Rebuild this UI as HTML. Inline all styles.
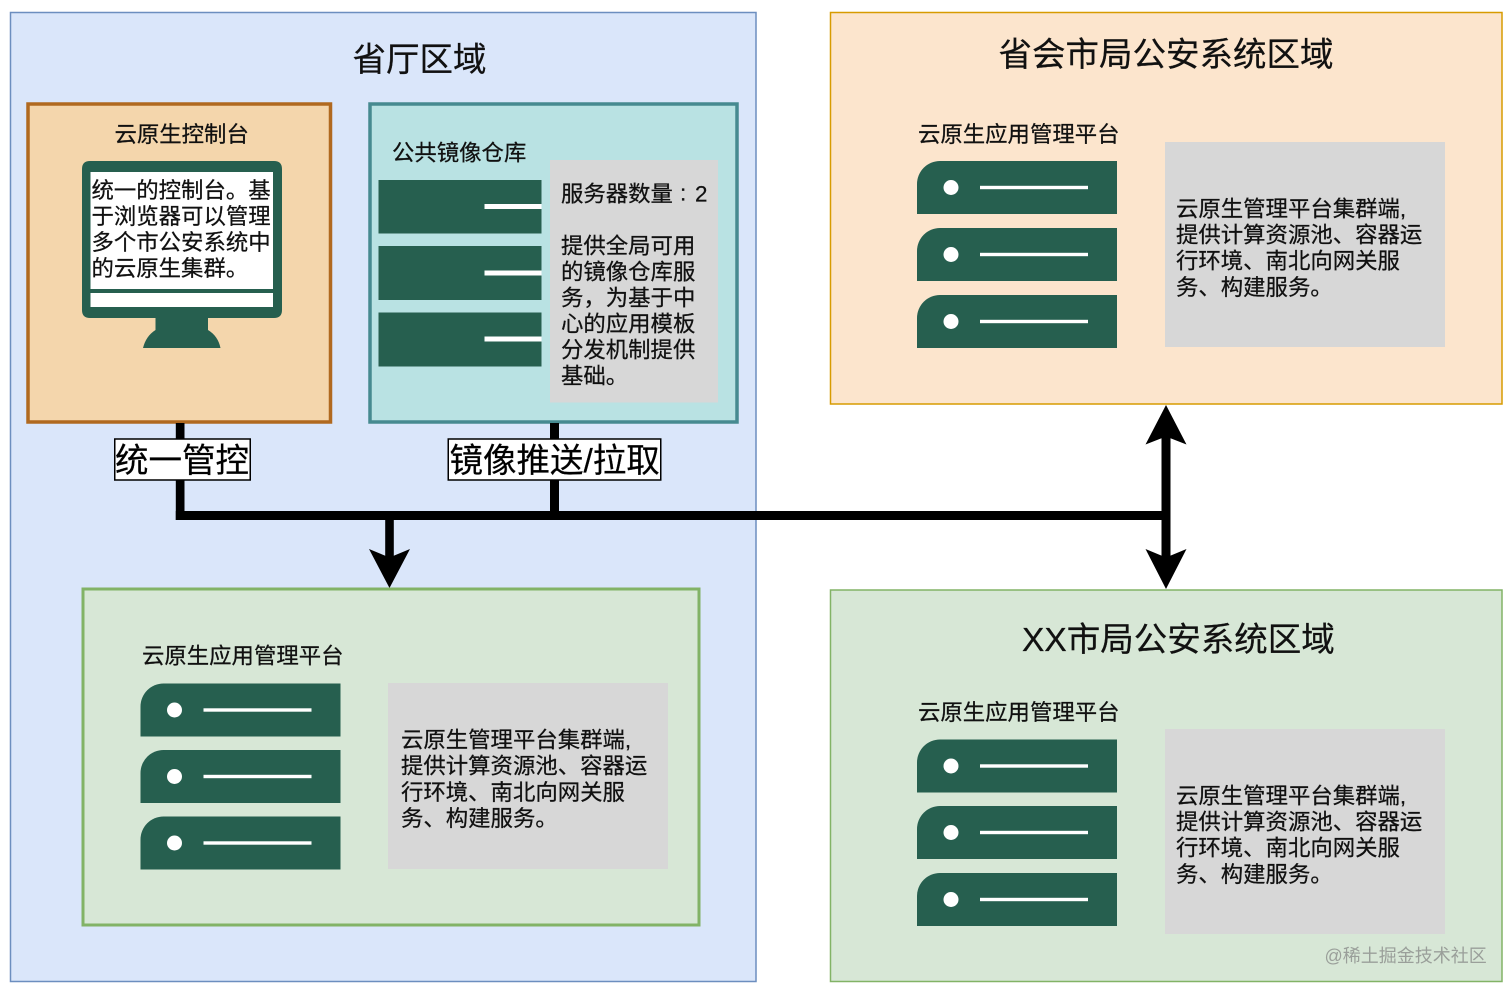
<!DOCTYPE html>
<html lang="zh">
<head>
<meta charset="utf-8">
<title>云原生架构图</title>
<style>
html,body{margin:0;padding:0;background:#fff;}
svg{display:block;}
text{font-family:"Liberation Sans","Noto Sans CJK SC",sans-serif;fill:#111;stroke:#111;stroke-width:.25px;}
.t{font-size:22.4px;}
.h{font-size:33.5px;}
.wm{font-size:18px;fill:#9a9f9a;stroke:none;}
.srv{fill:#265f4f;}
.gray{fill:#d7d7d7;}
</style>
</head>
<body>
<svg width="1512" height="992" viewBox="0 0 1512 992" xmlns="http://www.w3.org/2000/svg">
<defs>
  <g id="s">
    <path class="srv" d="M0 53V23A23 23 0 0 1 23 0H200V53Z"/>
    <circle cx="34" cy="26.500" r="7.500" fill="#fff"/>
    <rect x="63" y="24.800" width="108" height="3.400" fill="#fff"/>
  </g>
</defs>

<!-- regions -->
<rect x="10.500" y="12.500" width="745.500" height="969" fill="#dae6fa" stroke="#6c8ebf" stroke-width="1.500"/>
<rect x="830.500" y="12.500" width="671.500" height="391.500" fill="#fce5cd" stroke="#d79b00" stroke-width="1.500"/>
<rect x="830.500" y="590" width="671.500" height="391.500" fill="#d7e7d6" stroke="#82b366" stroke-width="1.500"/>

<!-- titles -->
<text class="h" x="352.500" y="71">省厅区域</text>
<text class="h" x="998.500" y="66">省会市局公安系统区域</text>
<text class="h" x="1022" y="651">XX市局公安系统区域</text>

<!-- console -->
<rect x="28" y="104" width="302.500" height="318" fill="#f4d6ac" stroke="#b0691f" stroke-width="3.500"/>
<text class="t" x="114.500" y="142">云原生控制台</text>
<path class="srv" d="M90 161H274Q282 161 282 169V310Q282 318 274 318H208V330Q218 336 220.500 348H143Q146 336 155.500 330V318H90Q82 318 82 310V169Q82 161 90 161Z"/>
<rect x="90.500" y="172" width="182.500" height="117" fill="#fff"/>
<rect x="90.500" y="293" width="182.500" height="14" fill="#fff"/>
<text class="t" x="91.500" y="198">统一的控制台。基</text>
<text class="t" x="91.500" y="224">于浏览器可以管理</text>
<text class="t" x="91.500" y="250">多个市公安系统中</text>
<text class="t" x="91.500" y="276">的云原生集群。</text>

<!-- repo -->
<rect x="370" y="104" width="367" height="318" fill="#b9e2e3" stroke="#468a90" stroke-width="3.500"/>
<text class="t" x="392" y="160.500">公共镜像仓库</text>
<rect class="srv" x="378.500" y="180" width="163" height="53.500"/>
<rect class="srv" x="378.500" y="246" width="163" height="54"/>
<rect class="srv" x="378.500" y="312.500" width="163" height="54"/>
<rect x="484.500" y="204" width="57" height="5" fill="#fff"/>
<rect x="484.500" y="270.500" width="57" height="5" fill="#fff"/>
<rect x="484.500" y="336.500" width="57" height="5" fill="#fff"/>
<rect class="gray" x="550" y="160" width="168" height="242.500"/>
<text class="t" x="561" y="201.500">服务器数量</text>
<text class="t" x="680" y="200.500">:</text>
<text class="t" x="695" y="201.500">2</text>
<text class="t" x="561" y="253.500">提供全局可用</text>
<text class="t" x="561" y="279.500">的镜像仓库服</text>
<text class="t" x="561" y="305.500">务，为基于中</text>
<text class="t" x="561" y="331.500">心的应用模板</text>
<text class="t" x="561" y="357.500">分发机制提供</text>
<text class="t" x="561" y="383.500">基础。</text>

<!-- connectors -->
<g fill="#000">
  <rect x="175.800" y="423" width="8.700" height="97"/>
  <rect x="550" y="423" width="9" height="97"/>
  <rect x="175.800" y="511" width="990" height="9"/>
  <rect x="385.200" y="515" width="8.600" height="45"/>
  <path d="M389.500 588L369 549L389.500 557.500L410 549Z"/>
  <rect x="1161.500" y="430" width="9" height="130"/>
  <path d="M1166 405L1186.500 444.500L1166 436.500L1145.500 444.500Z"/>
  <path d="M1166 589L1145.500 549L1166 557.500L1186.500 549Z"/>
</g>

<!-- labels -->
<rect x="114.750" y="439" width="135.500" height="41" fill="#fff" stroke="#000" stroke-width="1.500"/>
<text class="h" x="115" y="472" style="fill:#000">统一管控</text>
<rect x="448.250" y="439" width="212.500" height="41" fill="#fff" stroke="#000" stroke-width="1.500"/>
<text class="h" x="449.500" y="472" style="fill:#000">镜像推送/拉取</text>

<!-- bottom-left platform -->
<rect x="83" y="589" width="616" height="336" fill="#d7e7d6" stroke="#82b366" stroke-width="3"/>
<text class="t" x="142" y="663.500">云原生应用管理平台</text>
<use href="#s" x="140.500" y="683.500"/>
<use href="#s" x="140.500" y="750"/>
<use href="#s" x="140.500" y="816.500"/>
<rect class="gray" x="388" y="683" width="280" height="186"/>
<text class="t" x="401" y="747.500">云原生管理平台集群端,</text>
<text class="t" x="401" y="773.500">提供计算资源池、容器运</text>
<text class="t" x="401" y="800">行环境、南北向网关服</text>
<text class="t" x="401" y="826">务、构建服务。</text>

<!-- top-right platform -->
<text class="t" x="918" y="142">云原生应用管理平台</text>
<use href="#s" x="917" y="161"/>
<use href="#s" x="917" y="228"/>
<use href="#s" x="917" y="295"/>
<rect class="gray" x="1165" y="142" width="280" height="205"/>
<text class="t" x="1176" y="216.500">云原生管理平台集群端,</text>
<text class="t" x="1176" y="242.500">提供计算资源池、容器运</text>
<text class="t" x="1176" y="268.500">行环境、南北向网关服</text>
<text class="t" x="1176" y="295">务、构建服务。</text>

<!-- bottom-right platform -->
<text class="t" x="918" y="720">云原生应用管理平台</text>
<use href="#s" x="917" y="739.500"/>
<use href="#s" x="917" y="806"/>
<use href="#s" x="917" y="873"/>
<rect class="gray" x="1165" y="729" width="280" height="205"/>
<text class="t" x="1176" y="803.500">云原生管理平台集群端,</text>
<text class="t" x="1176" y="829.500">提供计算资源池、容器运</text>
<text class="t" x="1176" y="855.500">行环境、南北向网关服</text>
<text class="t" x="1176" y="882">务、构建服务。</text>

<text class="wm" x="1324.500" y="962">@稀土掘金技术社区</text>
</svg>
</body>
</html>
